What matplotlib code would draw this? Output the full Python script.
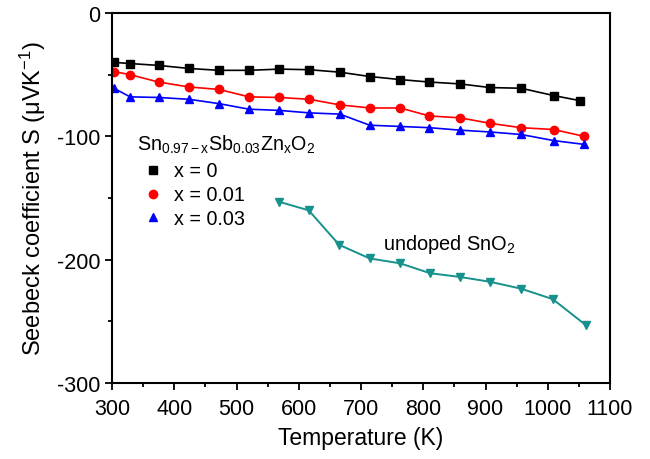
#!/usr/bin/env python3
# Seebeck coefficient vs temperature for Sn(0.97-x)Sb(0.03)Zn(x)O2 and undoped SnO2

import matplotlib
matplotlib.use('Agg')
import matplotlib.pyplot as plt
from matplotlib.lines import Line2D
from matplotlib.ticker import MultipleLocator

plt.rcParams['font.family'] = ['Liberation Sans', 'DejaVu Sans']
plt.rcParams['mathtext.fontset'] = 'custom'
plt.rcParams['mathtext.rm'] = 'Liberation Sans'
plt.rcParams['mathtext.it'] = 'Liberation Sans:italic'
plt.rcParams['axes.unicode_minus'] = False

# data
temp_doped = [303, 329, 375, 424, 472, 520, 569, 617, 666, 714, 763, 810, 859,
              908, 957, 1010, 1058]
temp_x0 = [303, 329, 375, 424, 472, 520, 569, 617, 666, 714, 763, 810, 859,
           908, 957, 1010, 1051]
s_x0 = [-40, -41, -42.5, -45, -46.5, -46.5, -45.5, -46, -48, -51.5, -54, -56,
        -57.5, -60.5, -61, -67, -71]
s_x001 = [-47.5, -50, -56, -60, -62, -68, -68.5, -70, -74.5, -77, -77, -83.5,
          -85, -89.5, -93, -94.5, -100]
s_x003 = [-61, -68, -68.5, -70, -73.5, -78, -79, -81, -82, -91, -92, -93,
          -95, -96.5, -98.5, -103.5, -106.5]
temp_undoped = [568, 616, 665, 714, 763, 811, 859, 908, 957, 1008, 1061]
s_undoped = [-153, -160, -188, -199, -203, -211, -214, -218, -223.5, -232, -253]

labels = ['x = 0', 'x = 0.01', 'x = 0.03']
colors = ['black', '#ff0000', '#0000ff']
markers = ['s', 'o', '^']
teal = '#17918c'

fig = plt.figure(figsize=(6.5, 4.6), dpi=100)
ax = fig.add_axes([0.1723, 0.1652, 0.7662, 0.8044])

series = [(temp_x0, s_x0), (temp_doped, s_x001), (temp_doped, s_x003)]
for (t, s), c, m in zip(series, colors, markers):
    ax.plot(t, s, color=c, marker=m, markersize=6, linewidth=1.2)
ax.plot(temp_undoped, s_undoped, color=teal, marker='v', markersize=6,
        linewidth=1.4)

ax.set_xlim(300, 1100)
ax.set_ylim(-300, 0)
ax.xaxis.set_major_locator(MultipleLocator(100))
ax.xaxis.set_minor_locator(MultipleLocator(50))
ax.yaxis.set_major_locator(MultipleLocator(100))
ax.yaxis.set_minor_locator(MultipleLocator(50))
ax.tick_params(which='both', direction='out', top=False, right=False,
               labelsize=15.5, width=1.3, colors='black')
ax.tick_params(which='major', length=5)
ax.tick_params(which='minor', length=3)
ax.tick_params(axis='x', pad=6)
for sp in ax.spines.values():
    sp.set_linewidth(1.5)

ax.set_xlabel('Temperature (K)', fontsize=16.5, labelpad=5)
ax.set_ylabel('Seebeck coefficient S (μVK$^{-1}$)', fontsize=17, labelpad=6)

handles = [Line2D([], [], color=c, marker=m, linestyle='none', markersize=6)
           for c, m in zip(colors, markers)]
leg = ax.legend(handles, labels, title=r'$\mathregular{Sn_{0.97-x}Sb_{0.03}Zn_xO_2}$',
                loc='upper left', bbox_to_anchor=(0.022, 0.715), frameon=False,
                fontsize=14.2, title_fontsize=14.2, handlelength=1.6,
                handletextpad=0.3, labelspacing=0.25, alignment='left',
                borderpad=0.2)
leg._legend_box.sep = 5

ax.text(735, -187, 'undoped SnO$_2$', fontsize=14.4, va='center', ha='left')

fig.savefig('out.png', dpi=100)
